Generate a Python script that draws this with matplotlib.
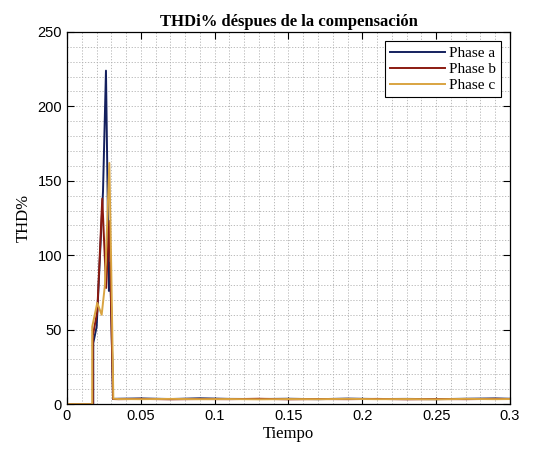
import matplotlib.pyplot as plt
import numpy as np
from matplotlib.ticker import MultipleLocator, FuncFormatter

# THD de corriente por fase tras la compensación
t_a = [0.0, 0.0178, 0.0178, 0.0201, 0.0244, 0.0264, 0.0284, 0.0292, 0.0300, 0.0312,
       0.035, 0.05, 0.07, 0.09, 0.11, 0.13, 0.15, 0.17, 0.19, 0.21, 0.23, 0.25, 0.27, 0.29, 0.30]
thd_a = [0.0, 0.0, 41.0, 52.0, 143.0, 224.0, 76.0, 95.0, 60.0, 3.5,
         3.6, 3.8, 3.4, 3.9, 3.5, 3.4, 3.6, 3.3, 3.7, 3.4, 3.5, 3.3, 3.6, 3.8, 3.6]

t_b = [0.0, 0.0175, 0.0175, 0.0205, 0.0239, 0.0265, 0.0287, 0.0300, 0.0312,
       0.035, 0.05, 0.07, 0.09, 0.11, 0.13, 0.15, 0.17, 0.19, 0.21, 0.23, 0.25, 0.27, 0.29, 0.30]
thd_b = [0.0, 0.0, 46.0, 62.0, 138.0, 78.0, 123.0, 60.0, 3.4,
         3.3, 3.5, 3.2, 3.4, 3.3, 3.6, 3.2, 3.4, 3.3, 3.5, 3.2, 3.4, 3.3, 3.5, 3.4]

t_c = [0.0, 0.0171, 0.0171, 0.0205, 0.0235, 0.0257, 0.0287, 0.0300, 0.0314,
       0.035, 0.05, 0.07, 0.09, 0.11, 0.13, 0.15, 0.17, 0.19, 0.21, 0.23, 0.25, 0.27, 0.29, 0.30]
thd_c = [0.0, 0.0, 52.0, 68.0, 60.0, 80.0, 162.0, 90.0, 3.6,
         3.4, 3.3, 3.5, 3.3, 3.4, 3.2, 3.4, 3.3, 3.5, 3.3, 3.4, 3.2, 3.5, 3.3, 3.4]

series = [
    ("Phase a", t_a, thd_a, "#14205e"),
    ("Phase b", t_b, thd_b, "#8b1a10"),
    ("Phase c", t_c, thd_c, "#d9a441"),
]

fig = plt.figure(figsize=(5.49, 4.5), dpi=100)
ax = fig.add_axes([0.122, 0.102, 0.807, 0.827])

for name, t, y, color in series:
    ax.plot(t, y, color=color, lw=1.4, label=name)

ax.set_xlim(0, 0.3)
ax.set_ylim(0, 250)
ax.xaxis.set_major_locator(MultipleLocator(0.05))
ax.xaxis.set_minor_locator(MultipleLocator(0.01))
ax.yaxis.set_major_locator(MultipleLocator(50))
ax.yaxis.set_minor_locator(MultipleLocator(10))
ax.xaxis.set_major_formatter(FuncFormatter(lambda v, p: f"{v:g}"))

ax.grid(which="both", color="#b0b0b0", lw=0.6, ls=(0, (1.5, 2.0)))
ax.set_axisbelow(True)
ax.tick_params(which="major", direction="in", length=5, width=0.8,
               top=True, right=True, labelsize=10.5)
ax.tick_params(which="minor", length=0)
for lbl in ax.get_xticklabels() + ax.get_yticklabels():
    lbl.set_fontfamily("Liberation Sans")
for s in ax.spines.values():
    s.set_linewidth(0.9)

ax.set_title("THDi% déspues de la compensación", fontfamily="Liberation Serif",
             fontweight="bold", fontsize=12, pad=4)
ax.set_xlabel("Tiempo", fontfamily="Liberation Serif", fontsize=12, labelpad=2)
ax.set_ylabel("THD%", fontfamily="Liberation Serif", fontsize=12, labelpad=4)

leg = ax.legend(loc="upper right", prop={"family": "Liberation Serif", "size": 11},
                fancybox=False, edgecolor="black", framealpha=1,
                handlelength=3.6, borderpad=0.35, labelspacing=0.15,
                handletextpad=0.2, borderaxespad=0.6)
leg.get_frame().set_linewidth(0.8)

fig.savefig("out.png", dpi=100)
